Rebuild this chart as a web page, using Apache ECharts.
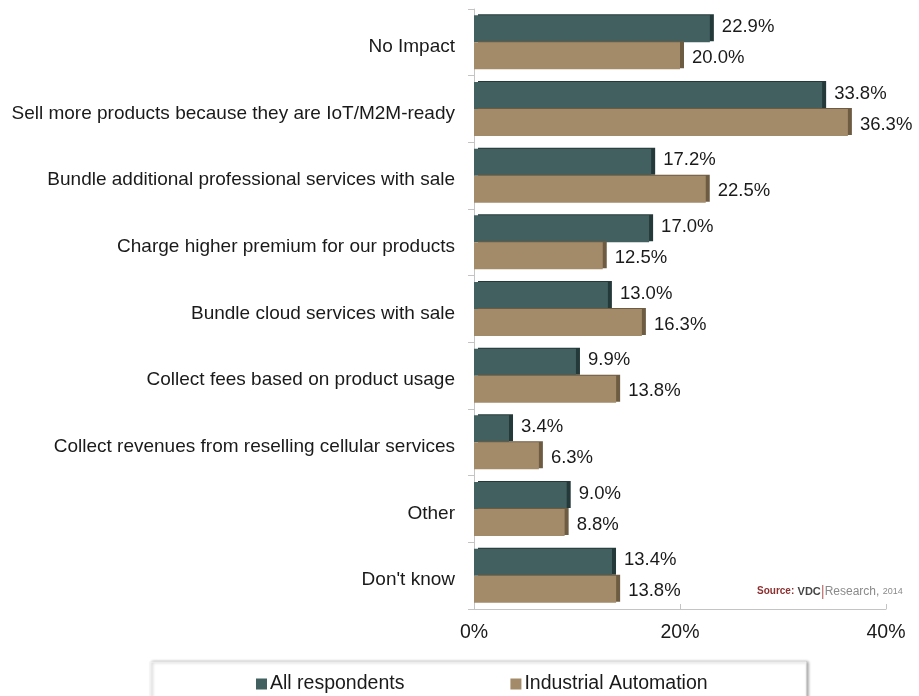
<!DOCTYPE html>
<html>
<head>
<meta charset="utf-8">
<script src="https://cdn.jsdelivr.net/npm/echarts@6/dist/echarts.min.js"></script>
<style>
  html, body { margin: 0; padding: 0; background: #fff; }
  #chart { width: 919px; height: 696px; }
</style>
</head>
<body>
<div id="chart"></div>
<script>
const categories = [
  'No Impact',
  'Sell more products because they are IoT/M2M-ready',
  'Bundle additional professional services with sale',
  'Charge higher premium for our products',
  'Bundle cloud services with sale',
  'Collect fees based on product usage',
  'Collect revenues from reselling cellular services',
  'Other',
  "Don't know"
]
const allRespondents = [22.9, 33.8, 17.2, 17.0, 13.0, 9.9, 3.4, 9.0, 13.4]
const industrialAutomation = [20.0, 36.3, 22.5, 12.5, 16.3, 13.8, 6.3, 8.8, 13.8]
const seriesNames = ['All respondents', 'Industrial Automation']
const colors = ['#41605f', '#a38b69']
const shadowColors = ['#24393a', '#6e5c42']

const chart = echarts.init(document.getElementById('chart'))

const barStyle = (i) => ({
  color: colors[i],
  shadowColor: shadowColors[i],
  shadowBlur: 0,
  shadowOffsetX: 4,
  shadowOffsetY: -1
})

const labelStyle = (dy) => ({
  show: true,
  position: 'right',
  distance: 12,
  offset: [0, dy],
  fontSize: 18.5,
  color: '#1a1a1a',
  formatter: p => p.value.toFixed(1) + '%'
})

const option = {
  animation: false,
  textStyle: {
    fontFamily: 'Liberation Sans, Arial, sans-serif'
  },
  grid: {
    left: 474,
    right: 33,
    top: 9,
    bottom: 87
  },
  graphic: [{
    type: 'rect',
    shape: { x: 150, y: 662, width: 656, height: 40 },
    style: {
      fill: '#fff',
      stroke: '#f2f2f2',
      lineWidth: 1,
      shadowColor: 'rgba(0,0,0,0.35)',
      shadowBlur: 3,
      shadowOffsetX: 2,
      shadowOffsetY: 0
    },
    z: 0
  }, {
    type: 'text',
    left: 757,
    top: 584,
    style: {
      text: '{a|Source:} {b|VDC}{c||}{d|Research,} {e|2014}',
      rich: {
        a: { fill: '#8b3030', fontWeight: 'bold', fontSize: 10, fontFamily: 'Liberation Sans Narrow, Arial, sans-serif' },
        b: { fill: '#444', fontWeight: 'bold', fontSize: 11, fontFamily: 'Liberation Sans Narrow, Arial, sans-serif' },
        c: { fill: '#c07070', fontSize: 15 },
        d: { fill: '#8a8a8a', fontSize: 12 },
        e: { fill: '#8a8a8a', fontSize: 9 }
      }
    }
  }],
  legend: {
    data: seriesNames,
    left: 251,
    top: 669,
    itemWidth: 11,
    itemHeight: 11,
    itemGap: 106,
    icon: 'rect',
    z: 5,
    textStyle: {
      fontSize: 19.5,
      color: '#1a1a1a',
      padding: [0, 0, 0, -2]
    }
  },
  xAxis: {
    type: 'value',
    min: 0,
    max: 40,
    interval: 20,
    axisLine: { show: true, lineStyle: { color: '#c4c4c4' } },
    axisTick: { show: true, inside: true, length: 5, lineStyle: { color: '#c4c4c4' } },
    splitLine: { show: false },
    axisLabel: {
      fontSize: 19.5,
      color: '#1a1a1a',
      margin: 14,
      formatter: v => v + '%'
    }
  },
  yAxis: {
    type: 'category',
    data: categories,
    inverse: true,
    axisLine: { show: true, lineStyle: { color: '#c4c4c4' } },
    axisTick: { show: true, length: 6, lineStyle: { color: '#c4c4c4' } },
    axisLabel: {
      margin: 19,
      formatter: v => '{t|' + v + '}',
      rich: {
        t: {
          fontSize: 19,
          color: '#1a1a1a',
          padding: [9, 0, 0, 0]
        }
      }
    }
  },
  series: [{
    name: seriesNames[0],
    type: 'bar',
    data: allRespondents,
    barGap: '0%',
    barCategoryGap: '19%',
    itemStyle: barStyle(0),
    label: labelStyle(-2)
  }, {
    name: seriesNames[1],
    type: 'bar',
    data: industrialAutomation,
    barGap: '0%',
    barCategoryGap: '19%',
    itemStyle: barStyle(1),
    label: labelStyle(2)
  }]
}

chart.setOption(option)
</script>
</body>
</html>
